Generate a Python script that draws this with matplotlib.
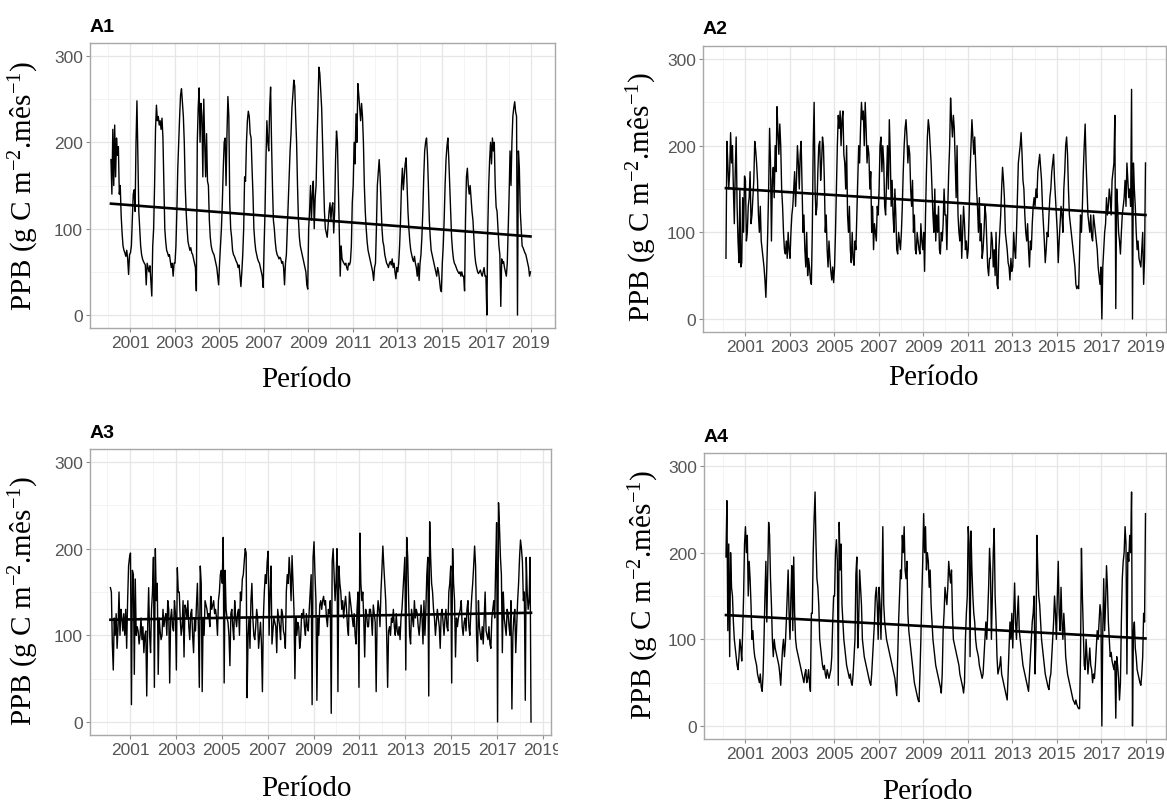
import numpy as np
import matplotlib
matplotlib.use("Agg")
import matplotlib.pyplot as plt
from matplotlib.transforms import Bbox, TransformedBbox

plt.rcParams['font.family'] = ['Liberation Sans', 'DejaVu Sans']
plt.rcParams['mathtext.fontset'] = 'custom'
plt.rcParams['mathtext.rm'] = 'Liberation Serif'
plt.rcParams['mathtext.it'] = 'Liberation Serif:italic'

# PPB, approx. semi-monthly values, one row per year (2000 starts in Feb)
a1_ppb = [
    [180, 140, 215, 150, 220, 160, 205, 185, 195, 140, 150, 115, 95, 80, 75, 72, 68, 75, 65, 47, 70],
    [72, 80, 110, 140, 145, 120, 200, 248, 180, 120, 100, 80, 70, 65, 62, 60, 58, 35, 60, 55, 50, 57, 40, 22],
    [80, 100, 150, 215, 243, 225, 230, 220, 225, 215, 228, 205, 150, 100, 85, 75, 72, 68, 70, 62, 55, 60, 45, 60],
    [60, 80, 120, 170, 200, 230, 255, 262, 245, 230, 200, 150, 120, 100, 85, 80, 75, 78, 72, 70, 65, 60, 55, 28],
    [200, 240, 263, 200, 245, 230, 160, 250, 200, 160, 210, 155, 150, 110, 90, 80, 75, 72, 70, 65, 60, 55, 45, 35],
    [60, 80, 100, 130, 170, 200, 205, 150, 210, 253, 230, 130, 100, 90, 75, 70, 68, 65, 62, 60, 55, 58, 45, 33],
    [50, 70, 100, 160, 155, 200, 225, 236, 230, 210, 205, 170, 140, 100, 85, 75, 70, 65, 62, 60, 55, 50, 45, 32],
    [80, 120, 180, 225, 200, 190, 240, 264, 200, 150, 110, 100, 85, 75, 70, 68, 65, 67, 65, 60, 62, 55, 35, 60],
    [70, 100, 130, 160, 190, 210, 240, 255, 272, 265, 230, 200, 150, 110, 90, 80, 75, 70, 65, 60, 55, 50, 35, 30],
    [100, 120, 150, 110, 140, 155, 100, 135, 150, 200, 240, 287, 280, 260, 240, 200, 160, 120, 100, 95, 90, 105, 120, 130],
    [110, 125, 130, 95, 120, 180, 213, 200, 150, 100, 45, 80, 65, 62, 60, 58, 60, 55, 52, 60, 58, 62, 80, 130],
    [150, 200, 175, 233, 200, 268, 255, 240, 225, 245, 230, 200, 150, 120, 100, 85, 75, 70, 65, 60, 55, 50, 40, 55],
    [60, 100, 150, 165, 180, 160, 130, 100, 85, 80, 70, 65, 60, 58, 55, 60, 62, 58, 65, 55, 60, 50, 42, 55],
    [50, 60, 80, 110, 150, 170, 145, 160, 175, 182, 150, 120, 100, 85, 75, 70, 65, 62, 68, 60, 55, 45, 60, 40],
    [60, 70, 90, 120, 160, 190, 200, 205, 185, 150, 110, 90, 75, 70, 65, 60, 55, 50, 45, 55, 50, 40, 30, 27],
    [60, 80, 110, 150, 180, 195, 205, 180, 150, 120, 90, 75, 65, 60, 58, 55, 52, 50, 48, 50, 45, 50, 45, 45],
    [28, 110, 160, 170, 150, 140, 150, 135, 120, 110, 90, 70, 60, 55, 50, 48, 50, 52, 48, 45, 50, 55, 45, 45],
    [0, 100, 150, 180, 200, 175, 205, 190, 200, 150, 125, 120, 100, 80, 70, 10, 65, 60, 62, 55, 50, 45, 60, 100],
    [140, 190, 150, 200, 230, 240, 247, 235, 230, 0, 190, 170, 120, 100, 80, 78, 75, 72, 70, 65, 60, 55, 45, 50],
]
a2_ppb = [
    [70, 205, 180, 150, 170, 215, 180, 200, 150, 110, 170, 210, 130, 90, 65, 150, 60, 65, 140, 100, 165],
    [160, 90, 100, 130, 140, 170, 110, 120, 140, 160, 205, 195, 180, 160, 120, 100, 130, 90, 80, 70, 60, 45, 25, 60],
    [100, 150, 220, 180, 90, 160, 175, 140, 200, 170, 245, 215, 190, 225, 200, 150, 130, 100, 80, 75, 90, 70, 100, 80],
    [70, 100, 120, 130, 150, 170, 130, 160, 200, 180, 150, 190, 205, 150, 100, 120, 80, 60, 100, 50, 70, 60, 45, 40],
    [100, 200, 250, 150, 120, 130, 170, 200, 205, 160, 180, 210, 200, 160, 100, 120, 80, 60, 90, 70, 55, 45, 60, 42],
    [60, 100, 150, 200, 235, 220, 240, 200, 230, 240, 190, 180, 150, 200, 120, 100, 130, 80, 65, 100, 70, 62, 90, 80],
    [120, 160, 200, 180, 220, 250, 230, 240, 200, 250, 220, 180, 200, 190, 150, 170, 100, 130, 80, 110, 100, 90, 130, 120],
    [150, 200, 210, 170, 200, 180, 130, 120, 160, 200, 150, 230, 190, 130, 160, 120, 100, 150, 120, 80, 75, 100, 90, 80],
    [100, 130, 170, 200, 220, 230, 210, 180, 200, 190, 150, 130, 160, 100, 120, 80, 75, 100, 90, 80, 75, 110, 90, 80],
    [100, 55, 120, 170, 210, 230, 220, 200, 180, 150, 120, 100, 150, 90, 120, 100, 130, 80, 75, 100, 90, 110, 150, 120],
    [120, 80, 130, 170, 200, 255, 230, 210, 235, 220, 180, 140, 200, 120, 100, 90, 120, 70, 100, 130, 110, 80, 90, 70],
    [80, 120, 170, 200, 230, 210, 190, 210, 180, 150, 130, 100, 140, 90, 110, 70, 80, 100, 130, 120, 90, 60, 50, 70],
    [70, 100, 90, 60, 80, 50, 100, 40, 35, 80, 100, 120, 150, 175, 160, 140, 100, 90, 80, 65, 60, 45, 70, 55],
    [60, 100, 80, 70, 100, 140, 180, 190, 200, 215, 190, 160, 150, 120, 100, 90, 110, 80, 60, 90, 80, 110, 130, 140],
    [130, 150, 140, 170, 180, 190, 175, 160, 130, 110, 90, 65, 80, 100, 95, 120, 140, 150, 170, 180, 190, 160, 140, 120],
    [100, 65, 90, 110, 130, 120, 100, 150, 170, 200, 210, 190, 150, 120, 110, 100, 90, 80, 70, 60, 40, 35, 38, 35],
    [80, 120, 100, 130, 170, 200, 225, 180, 150, 120, 110, 100, 120, 95, 90, 120, 110, 100, 90, 80, 60, 50, 40, 60],
    [0, 60, 80, 100, 110, 140, 120, 130, 150, 140, 120, 160, 170, 180, 235, 12, 150, 130, 100, 90, 75, 100, 120, 130],
    [140, 160, 130, 180, 160, 140, 150, 130, 265, 0, 180, 150, 130, 100, 80, 90, 70, 65, 60, 80, 100, 40, 70, 180],
]
a3_ppb = [
    [155, 150, 90, 60, 120, 100, 125, 85, 110, 150, 100, 130, 120, 105, 125, 100, 130, 85, 140, 180, 190],
    [195, 20, 175, 170, 55, 165, 100, 110, 105, 90, 100, 120, 95, 110, 80, 100, 105, 30, 110, 155, 100, 80, 130, 150],
    [190, 40, 200, 140, 160, 55, 120, 105, 95, 100, 130, 110, 120, 125, 100, 140, 130, 45, 120, 130, 110, 105, 140, 125],
    [60, 178, 150, 150, 120, 100, 110, 140, 75, 135, 130, 120, 140, 110, 95, 125, 130, 100, 80, 120, 105, 135, 160, 110],
    [40, 180, 160, 35, 120, 100, 140, 135, 130, 120, 125, 110, 145, 130, 135, 140, 125, 130, 120, 100, 140, 150, 170, 175],
    [160, 213, 45, 175, 130, 120, 115, 100, 65, 125, 130, 110, 95, 140, 120, 110, 125, 130, 100, 150, 140, 165, 170, 185],
    [200, 195, 28, 100, 120, 85, 140, 160, 120, 100, 95, 110, 130, 120, 85, 100, 115, 90, 35, 120, 150, 170, 160, 185],
    [197, 100, 150, 180, 90, 105, 120, 115, 110, 80, 130, 120, 110, 95, 130, 125, 105, 100, 85, 150, 170, 160, 190, 170],
    [140, 192, 160, 130, 50, 120, 100, 115, 110, 85, 95, 125, 120, 130, 110, 100, 125, 110, 105, 130, 150, 170, 20, 190],
    [208, 170, 140, 25, 120, 100, 135, 140, 130, 140, 145, 135, 140, 120, 110, 130, 125, 140, 10, 185, 200, 170, 140, 160],
    [200, 35, 180, 160, 150, 130, 140, 120, 135, 145, 130, 110, 100, 150, 140, 130, 120, 110, 125, 100, 90, 130, 150, 40],
    [218, 160, 140, 150, 120, 75, 130, 125, 110, 110, 130, 130, 120, 100, 135, 125, 115, 35, 120, 140, 130, 110, 150, 175],
    [203, 180, 160, 140, 100, 40, 105, 110, 100, 120, 115, 130, 110, 100, 125, 105, 100, 110, 95, 120, 130, 150, 170, 190],
    [60, 213, 190, 140, 100, 90, 130, 120, 110, 140, 120, 130, 125, 110, 100, 115, 135, 120, 90, 140, 100, 130, 170, 190],
    [30, 231, 190, 160, 150, 130, 120, 100, 115, 130, 120, 110, 85, 125, 130, 115, 100, 120, 130, 110, 105, 150, 160, 180],
    [45, 200, 160, 140, 75, 120, 110, 120, 125, 130, 140, 110, 100, 115, 120, 105, 130, 140, 110, 100, 125, 145, 160, 180],
    [203, 180, 100, 70, 140, 110, 100, 95, 110, 90, 120, 150, 105, 100, 95, 110, 90, 85, 120, 130, 140, 120, 180, 230],
    [0, 253, 225, 190, 170, 80, 150, 120, 110, 100, 130, 125, 110, 100, 140, 15, 100, 120, 130, 80, 110, 140, 160, 190],
    [210, 200, 185, 140, 150, 25, 190, 150, 130, 140, 190, 0],
]
a4_ppb = [
    [195, 260, 110, 210, 80, 200, 160, 150, 120, 100, 90, 80, 70, 65, 80, 100, 90, 75, 110, 150, 210],
    [230, 200, 220, 150, 190, 170, 140, 100, 110, 90, 80, 75, 70, 60, 55, 50, 60, 45, 40, 60, 100, 150, 190, 120],
    [180, 235, 220, 170, 140, 100, 80, 100, 90, 85, 80, 75, 70, 60, 47, 70, 90, 100, 80, 95, 120, 150, 180, 130],
    [100, 150, 185, 110, 195, 130, 100, 90, 85, 80, 75, 70, 65, 60, 55, 50, 60, 65, 50, 55, 65, 50, 40, 130],
    [130, 200, 240, 270, 210, 170, 160, 140, 100, 90, 80, 70, 65, 70, 60, 55, 65, 60, 55, 60, 65, 80, 120, 150],
    [150, 200, 215, 190, 47, 235, 180, 210, 140, 120, 100, 90, 80, 70, 65, 60, 55, 60, 50, 47, 60, 80, 100, 175],
    [195, 90, 120, 180, 160, 140, 100, 90, 80, 75, 70, 65, 60, 55, 50, 47, 60, 80, 100, 120, 150, 160, 140, 100],
    [160, 140, 100, 150, 230, 140, 120, 110, 100, 95, 90, 85, 80, 75, 70, 65, 60, 55, 45, 35, 80, 120, 150, 180],
    [170, 220, 200, 230, 180, 170, 190, 130, 110, 100, 90, 80, 70, 60, 50, 45, 40, 35, 30, 28, 60, 100, 150, 190],
    [245, 200, 230, 180, 200, 190, 160, 180, 140, 120, 100, 90, 80, 70, 65, 60, 55, 50, 45, 38, 60, 110, 130, 160],
    [150, 140, 160, 190, 175, 165, 180, 130, 100, 95, 90, 85, 80, 75, 70, 60, 55, 50, 45, 38, 50, 100, 130, 150],
    [230, 210, 80, 225, 180, 150, 130, 120, 100, 90, 85, 80, 70, 65, 60, 55, 60, 80, 100, 120, 100, 130, 160, 205],
    [180, 100, 150, 200, 228, 150, 120, 80, 60, 65, 70, 80, 60, 55, 50, 45, 40, 35, 30, 60, 90, 120, 100, 130],
    [90, 130, 165, 120, 100, 130, 150, 110, 100, 90, 80, 70, 65, 60, 55, 50, 45, 40, 60, 80, 100, 120, 130, 150],
    [60, 100, 220, 180, 150, 140, 120, 100, 90, 80, 70, 60, 55, 50, 45, 42, 55, 60, 80, 100, 120, 150, 130, 100],
    [150, 190, 130, 110, 160, 120, 100, 130, 110, 80, 70, 60, 55, 50, 45, 40, 35, 30, 28, 25, 30, 25, 22, 20],
    [20, 80, 205, 150, 110, 70, 65, 100, 80, 60, 75, 90, 70, 65, 50, 60, 55, 70, 90, 110, 100, 120, 140, 130],
    [0, 110, 170, 110, 140, 185, 160, 120, 100, 80, 85, 75, 70, 65, 75, 9, 80, 70, 55, 30, 50, 120, 170, 190],
    [200, 230, 210, 60, 200, 190, 220, 200, 270, 0, 110, 120, 90, 80, 65, 60, 55, 50, 47, 60, 80, 130, 120, 245],
]
first_year = 2000

# linear trend (start, end)
a1_trend = [129, 91]
a2_trend = [151, 120]
a3_trend = [118, 126]
a4_trend = [128, 101]

titles = ['A1', 'A2', 'A3', 'A4']
ylabel = 'PPB (g C m$^{\\mathrm{-2}}$.mês$^{\\mathrm{-1}}$)'
xlabel = 'Período'
major_years = list(range(2001, 2020, 2))
minor_years = list(range(2000, 2019, 2))


def to_series(rows):
    t, v = [], []
    for k, row in enumerate(rows):
        start = 24 - len(row) if k == 0 else 0
        for i, val in enumerate(row):
            t.append(first_year + k + (start + i + 0.5) / 24)
            v.append(val)
    return np.array(t), np.array(v)


W, H = 1167, 804


def rect(l, t, r, b):
    return [l / W, 1 - b / H, (r - l) / W, (b - t) / H]


fig = plt.figure(figsize=(W / 100, H / 100), dpi=100)

layout = [
    # axes box px, xlim, title baseline y, ylabel centre, xlabel centre, right clip px
    ((90, 44, 555, 329), (1999.205, 2020.08), 32, (24, 186), (306, 380), None),
    ((703, 47, 1166, 333), (1999.115, 2019.9), 34, (642, 197), (933, 378), None),
    ((90, 450, 551, 736), (1999.256, 2019.35), 438, (24, 601), (306, 789), 558),
    ((704, 454, 1166, 740), (1999.16, 2019.9), 442, (644, 595), (927, 792), None),
]

for title, rows, trend, lay in zip(titles, [a1_ppb, a2_ppb, a3_ppb, a4_ppb],
                                   [a1_trend, a2_trend, a3_trend, a4_trend], layout):
    box, xlim, ty, ylab_pos, xlab_pos, clip_x = lay
    ax = fig.add_axes(rect(*box))
    t, v = to_series(rows)

    ax.plot(t, v, color='black', lw=1.0)
    ax.plot([t[0], t[-1]], trend, color='black', lw=1.9)

    ax.set_xlim(*xlim)
    ax.set_ylim(-15, 315)
    ax.set_xticks(major_years)
    ax.set_xticks(minor_years, minor=True)
    ax.set_yticks([0, 100, 200, 300])
    ax.set_yticks([50, 150, 250], minor=True)
    ax.grid(which='major', color='#E6E6E6', lw=0.9)
    ax.grid(which='minor', color='#F2F2F2', lw=0.6)
    ax.set_axisbelow(True)
    ax.tick_params(which='major', length=3, width=0.8, color='#8C8C8C',
                   labelsize=12.5, labelcolor='#555555', pad=2)
    ax.tick_params(which='minor', length=0)
    for s in ax.spines.values():
        s.set_color('#A8A8A8')
        s.set_linewidth(1.0)

    if clip_x is not None:
        # the source image is cut just after the last tick label
        cb = TransformedBbox(Bbox([[0, 0], [clip_x / W, 1]]), fig.transFigure)
        for lab in ax.get_xticklabels():
            lab.set_clip_box(cb)
            lab.set_clip_on(True)

    fig.text(box[0] / W, 1 - ty / H, title, fontsize=14, fontweight='bold',
             ha='left', va='baseline')
    fig.text(ylab_pos[0] / W, 1 - ylab_pos[1] / H, ylabel, rotation=90,
             fontsize=21, family='Liberation Serif', ha='center', va='center')
    fig.text(xlab_pos[0] / W, 1 - xlab_pos[1] / H, xlabel,
             fontsize=21, family='Liberation Serif', ha='center', va='center')

fig.savefig('out.png', dpi=100)
